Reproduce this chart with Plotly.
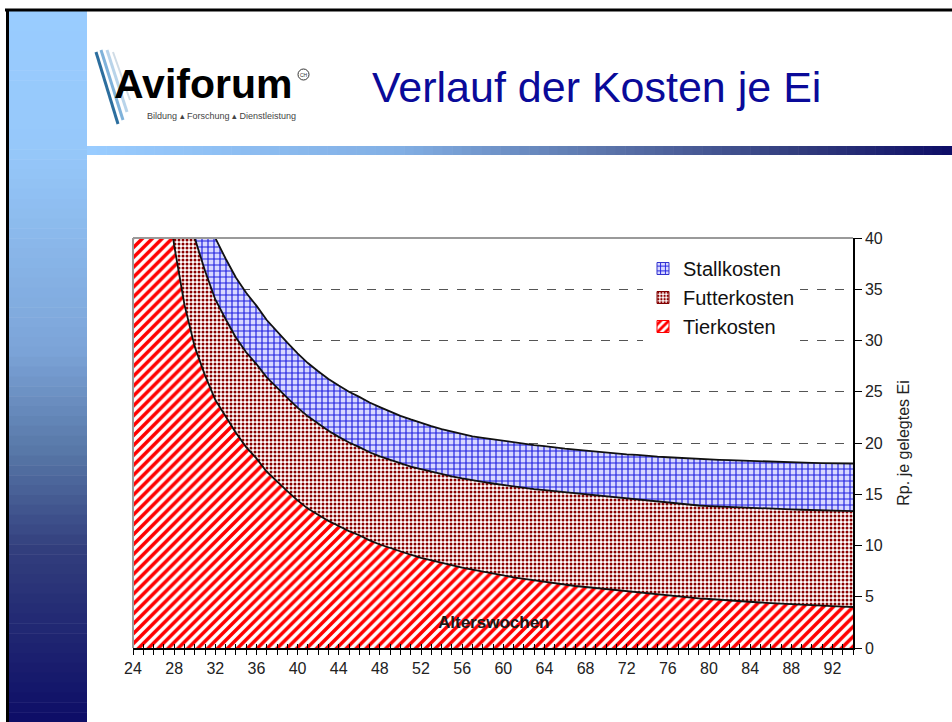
import plotly.graph_objects as go

# ---------------- data ----------------
weeks = list(range(24, 95))  # Alterswochen
x_tick_vals = [24, 28, 32, 36, 40, 44, 48, 52, 56, 60, 64, 68, 72, 76, 80, 84, 88, 92]
x_tick_labels = ["24", "28", "32", "36", "40", "44", "48", "52", "56", "60",
                 "64", "68", "72", "76", "80", "84", "88", "92"]
y_tick_vals = [0, 5, 10, 15, 20, 25, 30, 35, 40]

tierkosten = [85, 68, 56, 47, 39.3, 33.5, 29.4, 26.6, 24.2, 22.6,
              21.0, 19.6, 18.5, 17.2, 16.2, 15.3, 14.4, 13.6, 13.0, 12.4,
              11.9, 11.4, 11.0, 10.5, 10.1, 9.75, 9.4, 9.1, 8.8, 8.55,
              8.3, 8.05, 7.85, 7.65, 7.45, 7.25, 7.05, 6.9, 6.75, 6.6,
              6.45, 6.3, 6.2, 6.05, 5.95, 5.85, 5.75, 5.6, 5.5, 5.4,
              5.3, 5.2, 5.1, 5.0, 4.9, 4.85, 4.78, 4.7, 4.63, 4.56,
              4.5, 4.44, 4.38, 4.32, 4.27, 4.22, 4.17, 4.12, 4.08, 4.04,
              4.0]
futterkosten = [25, 20, 16, 13.5, 11.5, 11.0, 10.6, 10.2, 9.8, 9.5,
                9.3, 9.25, 9.2, 9.2, 9.15, 9.1, 9.05, 9.0, 8.9, 8.8,
                8.7, 8.65, 8.6, 8.6, 8.6, 8.6, 8.6, 8.6, 8.65, 8.65,
                8.65, 8.7, 8.7, 8.7, 8.75, 8.8, 8.85, 8.85, 8.85, 8.9,
                8.95, 9.0, 9.0, 9.05, 9.05, 9.05, 9.05, 9.1, 9.1, 9.1,
                9.05, 9.05, 9.05, 9.05, 9.05, 9.05, 9.07, 9.1, 9.13, 9.16,
                9.18, 9.2, 9.22, 9.24, 9.25, 9.27, 9.29, 9.31, 9.32, 9.33,
                9.35]
stallkosten = [20, 16, 13, 10, 8.2, 7.0, 6.4, 6.1, 6.0, 5.9,
               5.85, 5.8, 5.7, 5.6, 5.5, 5.4, 5.3, 5.2, 5.1, 5.05,
               5.0, 4.95, 4.9, 4.85, 4.8, 4.7, 4.65, 4.6, 4.5, 4.45,
               4.4, 4.35, 4.3, 4.3, 4.3, 4.3, 4.3, 4.3, 4.3, 4.3,
               4.3, 4.25, 4.25, 4.25, 4.25, 4.25, 4.25, 4.28, 4.3, 4.34,
               4.38, 4.42, 4.46, 4.5, 4.52, 4.54, 4.55, 4.56, 4.56, 4.56,
               4.56, 4.56, 4.57, 4.58, 4.59, 4.59, 4.6, 4.61, 4.62, 4.64,
               4.65]

# ---------------- layout geometry (pixels) ----------------
W, H = 952, 722
L, R, T, B = 133, 853, 238, 648
PW, PH = R - L, B - T


def px(x):
    return (x - L) / PW


def py(y):
    return (B - y) / PH


FONT = "Liberation Sans, Arial, sans-serif"

stripe = dict(shape="/", fgcolor="#FF0000", bgcolor="#FFFFFF", size=7, solidity=0.5)
dots = dict(shape=".", fgcolor="#8B0000", bgcolor="#FFFFFF", size=4, solidity=0.45)
brick = dict(shape="+", fgcolor="#2020E0", bgcolor="#D8D8FF", size=6, solidity=0.35)

fig = go.Figure()

series = [("Tierkosten", tierkosten, stripe, "#FF0000"),
          ("Futterkosten", futterkosten, dots, "#800000"),
          ("Stallkosten", stallkosten, brick, "#3333CC")]

for name, vals, pat, col in series:
    fig.add_trace(go.Scatter(
        x=weeks, y=vals, name=name, stackgroup="kosten", mode="lines",
        line=dict(color="#111111", width=1.8),
        fillpattern=dict(fillmode="replace", **pat),
        showlegend=False, hoverinfo="skip"))

# legend swatches (patterned squares)
for name, vals, pat, col in series:
    fig.add_trace(go.Bar(
        x=[None], y=[None], name=name, xaxis="x2",
        marker=dict(color="#FFFFFF", line=dict(color=col, width=1),
                    pattern=dict(fillmode="replace", **pat)),
        showlegend=True))

# ---------------- background slide decoration ----------------
shapes = []


def lerp(c1, c2, t):
    return tuple(round(a + (b - a) * t) for a, b in zip(c1, c2))


def grad_color(stops, v):
    for (p1, c1), (p2, c2) in zip(stops[:-1], stops[1:]):
        if p1 <= v <= p2:
            return "rgb(%d,%d,%d)" % lerp(c1, c2, (v - p1) / (p2 - p1) if p2 > p1 else 0)
    return "rgb(%d,%d,%d)" % stops[-1][1]


# left vertical gradient bar
vstops = [(11, (153, 204, 255)), (150, (150, 200, 250)), (350, (124, 164, 216)),
          (450, (88, 120, 168)), (550, (50, 62, 125)), (722, (13, 13, 102))]
n = 72
for i in range(n):
    y0 = 11 + (722 - 11) * i / n
    y1 = 11 + (722 - 11) * (i + 1) / n + 0.6
    shapes.append(dict(type="rect", xref="paper", yref="paper",
                       x0=px(9), x1=px(87), y0=py(y1), y1=py(y0),
                       fillcolor=grad_color(vstops, (y0 + y1) / 2), line=dict(width=0)))

# top horizontal gradient bar
hstops = [(87, (153, 204, 255)), (400, (130, 175, 228)), (600, (92, 118, 172)),
          (800, (50, 60, 125)), (952, (13, 13, 102))]
n = 90
for i in range(n):
    x0 = 87 + (952 - 87) * i / n
    x1 = 87 + (952 - 87) * (i + 1) / n + 0.6
    shapes.append(dict(type="rect", xref="paper", yref="paper",
                       x0=px(x0), x1=px(x1), y0=py(155), y1=py(146),
                       fillcolor=grad_color(hstops, (x0 + x1) / 2), line=dict(width=0)))

# black frame of the slide
shapes.append(dict(type="line", xref="paper", yref="paper",
                   x0=px(5), x1=px(952), y0=py(10), y1=py(10),
                   line=dict(color="#000000", width=3)))
shapes.append(dict(type="line", xref="paper", yref="paper",
                   x0=px(7.5), x1=px(7.5), y0=py(9), y1=py(722),
                   line=dict(color="#000000", width=3)))

# logo strokes
for (xa, ya, xb, yb, c, w) in [(96, 52, 118, 124, "#2C6E9E", 3),
                                (101, 50, 123, 120, "#7FB2DA", 3),
                                (107, 50, 127, 112, "#B9D4EA", 3),
                                (113, 52, 130, 100, "#D0DCE6", 2)]:
    shapes.append(dict(type="line", xref="paper", yref="paper",
                       x0=px(xa), y0=py(ya), x1=px(xb), y1=py(yb),
                       line=dict(color=c, width=w)))
shapes.append(dict(type="circle", xref="paper", yref="paper",
                   x0=px(298), x1=px(309), y0=py(80), y1=py(69),
                   line=dict(color="#333333", width=1)))

# plot-area border (top & left, grey)
shapes.append(dict(type="line", xref="paper", yref="paper", x0=0, x1=1, y0=1, y1=1,
                   line=dict(color="#9A9A9A", width=2)))
shapes.append(dict(type="line", xref="paper", yref="paper", x0=0, x1=0, y0=0, y1=1,
                   line=dict(color="#9A9A9A", width=2)))

annotations = [
    dict(text="Verlauf der Kosten je Ei", xref="paper", yref="paper",
         x=px(596), y=py(87), xanchor="center", yanchor="middle", showarrow=False,
         font=dict(family=FONT, size=43, color="#0A0A99")),
    dict(text="<b>Aviforum</b>", xref="paper", yref="paper",
         x=px(112), y=py(84), xanchor="left", yanchor="middle", showarrow=False,
         font=dict(family=FONT, size=41, color="#000000")),
    dict(text="CH", xref="paper", yref="paper",
         x=px(303.5), y=py(74.5), xanchor="center", yanchor="middle", showarrow=False,
         font=dict(family=FONT, size=5, color="#333333")),
    dict(text="Bildung ▴ Forschung ▴ Dienstleistung", xref="paper", yref="paper",
         x=px(221), y=py(116), xanchor="center", yanchor="middle", showarrow=False,
         font=dict(family=FONT, size=9, color="#444444")),
    dict(text="<b>Alterswochen</b>", xref="paper", yref="paper",
         x=0.5, y=py(622), xanchor="center", yanchor="middle", showarrow=False,
         font=dict(family=FONT, size=17, color="#1A1A1A")),
]

fig.update_layout(
    width=W, height=H,
    margin=dict(l=L, r=W - R, t=T, b=H - B, autoexpand=False),
    paper_bgcolor="#FFFFFF", plot_bgcolor="#FFFFFF",
    font=dict(family=FONT, color="#222222"),
    showlegend=True,
    legend=dict(x=px(643), y=py(249), xanchor="left", yanchor="top",
                bgcolor="#FFFFFF", borderwidth=0, traceorder="reversed",
                font=dict(family=FONT, size=20, color="#111111"),
                itemwidth=30, tracegroupgap=0),
    xaxis=dict(range=[24, 94], tickmode="array", tickvals=x_tick_vals,
               ticktext=x_tick_labels, ticks="outside", ticklen=5, tickwidth=1,
               tickcolor="#000000", showline=True, linecolor="#000000", linewidth=1.5,
               showgrid=False, zeroline=False,
               minor=dict(dtick=1, tick0=24, ticks="outside", ticklen=5,
                          tickcolor="#000000", showgrid=False),
               tickfont=dict(family=FONT, size=16, color="#222222")),
    xaxis2=dict(range=[24, 94], overlaying="x", anchor="y", side="bottom",
                tickmode="array", tickvals=weeks, ticks="inside", ticklen=4,
                tickcolor="#000000", showticklabels=False, showgrid=False,
                zeroline=False, showline=False),
    yaxis=dict(range=[0, 40], side="right", tickmode="array", tickvals=y_tick_vals,
               ticks="outside", ticklen=7, tickcolor="#000000",
               showline=True, linecolor="#000000", linewidth=1.5,
               showgrid=True, gridcolor="#555555", griddash="dash", gridwidth=1.2,
               zeroline=False,
               tickfont=dict(family=FONT, size=16, color="#222222"),
               title=dict(text="Rp. je gelegtes Ei", standoff=16,
                          font=dict(family=FONT, size=16, color="#222222"))),
    shapes=shapes,
    annotations=annotations,
)

fig.write_html("out.html", config={"displayModeBar": False},
               post_script="document.body.style.margin='0px';"
                           "document.body.style.overflow='hidden';")
